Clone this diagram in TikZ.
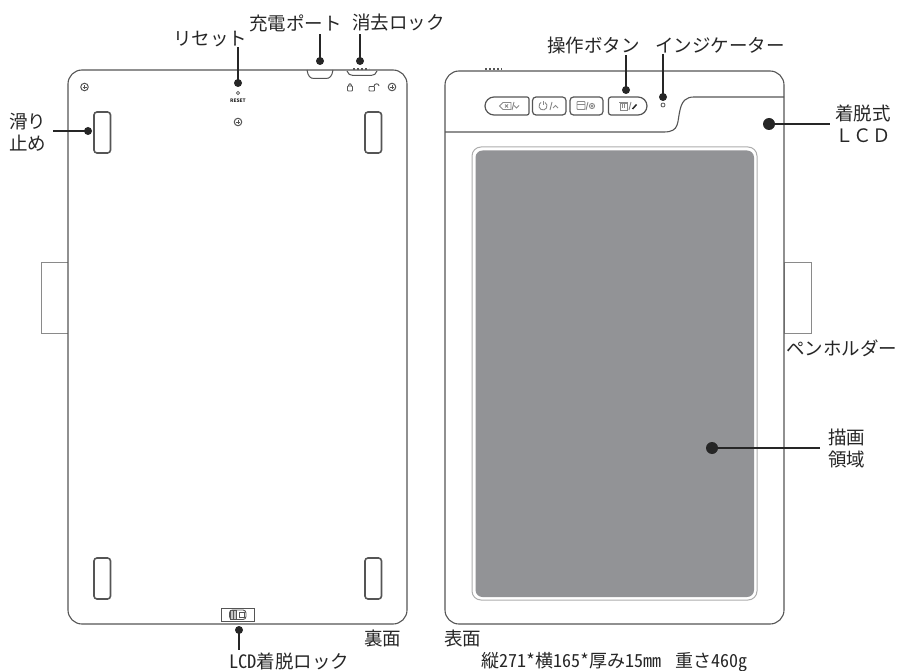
\documentclass[tikz,border=0pt]{standalone}
\usepackage{fontspec}
\setmainfont{Noto Sans CJK JP}
\newfontfamily\hwfont[RawFeature=+hwid]{Noto Sans CJK JP}
\definecolor{ink}{HTML}{262626}
\definecolor{edge}{HTML}{555555}
\definecolor{soft}{HTML}{8A8A8A}
\definecolor{scr}{HTML}{929396}
\tikzset{
  lbl/.style={inner sep=0pt,text=ink,font=\fontsize{18.5}{22}\selectfont,align=center},
  panel/.style={draw=edge,line width=1.1pt,fill=white},
  holder/.style={draw=soft,line width=1pt,fill=white},
  pad/.style={draw=edge,line width=1.6pt,rounded corners=3pt,fill=white},
  leader/.style={draw=ink,line width=1.5pt},
  dotm/.style={circle,fill=ink,inner sep=0pt,minimum size=8pt},
  dotl/.style={circle,fill=ink,inner sep=0pt,minimum size=12pt},
  ic/.style={draw=soft,line width=.9pt},
  btn/.style={draw=edge,line width=1.2pt,fill=white},
  screw/.style={circle,draw=edge,line width=1pt,inner sep=0pt,minimum size=7.5pt}
}
\newcommand{\screwat}[2]{\node[screw] (#2) at (#1) {};
  \draw[edge,line width=.7pt] ([xshift=-2pt]#2.center) -- ([xshift=2pt]#2.center) ([yshift=-2pt]#2.center) -- ([yshift=2pt]#2.center);}
\begin{document}
\begin{tikzpicture}[x=1pt,y=-1pt]
\useasboundingbox (0,0) rectangle (899,671);
% pen holders
\draw[holder] (68,262) rectangle (41,333);
\draw[holder] (784,262) rectangle (811,333);
% back panel
\draw[panel,rounded corners=14pt] (68,70) rectangle (407,624);
\foreach \x/\y in {94/112,365/112,94/558,365/558}
  \draw[pad] (\x,\y) rectangle ++(16.5,41);
\screwat{84.5,87}{sa}
\screwat{238,122}{sb}
\screwat{392,87}{sc}
\draw[edge,line width=.7pt] (238,93) circle (1.7);
\node[inner sep=0pt,text=ink,font=\fontsize{4.8}{5}\selectfont\bfseries] (rs) at (238,101) {RESET};
% charge port
\draw[edge,line width=1pt] (307,70) .. controls (308,76) and (310,78.5) .. (314,78.5) -- (326,78.5) .. controls (330,78.5) and (332,76) .. (333,70);
% erase slider
\draw[edge,line width=1pt] (347,71) .. controls (348,74) and (350,75.5) .. (353,75.5) -- (371,75.5) .. controls (374,75.5) and (376,74) .. (377,71);
\draw[edge,line width=1.1pt,dash pattern=on 2pt off 2pt] (353,69) -- (369,69);
% lock icons
\draw[edge,line width=.9pt,rounded corners=.7pt] (347.5,86) rectangle (352.5,91);
\draw[edge,line width=.9pt] (348.5,86) .. controls (348.5,83) and (351.5,83) .. (351.5,86);
\draw[edge,line width=.9pt,rounded corners=.7pt] (369,86.5) rectangle (374.5,91);
\draw[edge,line width=.9pt] (374,86.5) .. controls (374,83) and (379,83) .. (379,86);
% slide lock at bottom
\draw[edge,line width=.9pt,fill=white] (221,608) rectangle (254,621);
\draw[edge,line width=.9pt,rounded corners=3pt] (229.5,610) rectangle (246,619.5);
\draw[edge,line width=.9pt,fill=soft!50] (230,610.5) rectangle (236,619);
\draw[edge,line width=.6pt] (233,610.5) -- (233,619);
\draw[edge,line width=.6pt] (239,612.5) rectangle (244,617);
% front panel
\draw[panel,rounded corners=14pt] (445,71) rectangle (784,624);
\draw[edge,line width=1.1pt,dash pattern=on 2pt off 2pt] (485,69) -- (502,69);
\draw[edge,line width=1.1pt] (445,132) -- (664,132) .. controls (680,132) and (677,122) .. (680,110) .. controls (682,101) and (686,97) .. (694,97) -- (784,97);
% screen
\draw[draw=soft!70,line width=1pt,fill=white,rounded corners=9pt] (472,147) rectangle (757,600);
\fill[scr,rounded corners=7pt] (475.5,150.5) rectangle (754,597);
% buttons
\draw[btn] (494,97) -- (527,97) arc[start angle=-90,end angle=0,radius=2] -- (529,113) arc[start angle=0,end angle=90,radius=2] -- (494,115) arc[start angle=90,end angle=270,radius=9] -- cycle;
\draw[btn,rounded corners=3.5pt] (532.5,97) rectangle (566,115);
\draw[btn,rounded corners=3.5pt] (570,97) rectangle (603,115);
\draw[btn] (611,97) -- (638,97) arc[start angle=-90,end angle=90,radius=9] -- (611,115) arc[start angle=90,end angle=180,radius=2.5] -- (608.5,99.5) arc[start angle=180,end angle=270,radius=2.5] -- cycle;
% button icons
\draw[ic] (503,102.5) -- (511,102.5) -- (511,109.5) -- (503,109.5) -- (499.5,106) -- cycle;
\draw[ic] (505,104.5) -- (508,107.5) (508,104.5) -- (505,107.5);
\draw[ic] (512,110) -- (514,102) (514,105.5) -- (516.5,108) -- (519,105.5);
\draw[ic] (545,102.5) arc[start angle=-60,end angle=240,radius=4];
\draw[ic] (543,101) -- (543,105);
\draw[ic] (550,110) -- (552,102) (553,108) -- (555.5,105.5) -- (558,108);
\draw[ic,rounded corners=.7pt] (577,101.5) rectangle (585,109.5);
\draw[ic] (577,104) -- (585,104);
\draw[ic] (586,110) -- (588,102);
\draw[ic] (592,106) circle (2.6) (592,106) circle (.8);
\draw[ic] (620,103) rectangle (627,110) (619,102.5) -- (628,102.5);
\draw[ic] (622.5,104.5) -- (622.5,108.5) (624.5,104.5) -- (624.5,108.5);
\draw[ic] (629,110) -- (631,102);
\draw[ink,line width=1.5pt] (632.5,109) -- (636.5,104.5);
\draw[edge,line width=.8pt] (663,105) circle (2);
% labels
\node[lbl,anchor=west] (lreset) at (173,39.5) {リセット};
\node[lbl,anchor=west] (lport) at (249,23) {充電ポート};
\node[lbl,anchor=west] (lerase) at (352,23) {消去ロック};
\node[lbl,anchor=west] (lpad) at (9,132) {滑り\\止め};
\node[lbl,anchor=west] (lslide) at (229,661) {{\hwfont LCD}着脱ロック};
\node[lbl,anchor=west] (lback) at (364,638) {裏面};
\node[lbl,anchor=west] (lfront) at (444,638) {表面};
\node[lbl,anchor=west,font=\fontsize{18}{22}\selectfont\hwfont] (lspec) at (481,662) {縦271*横165*厚み15mm\hspace{14pt}重さ460g};
\node[lbl,anchor=west] (lbtn) at (547,45) {操作ボタン};
\node[lbl,anchor=west] (lind) at (655,45) {インジケーター};
\node[lbl,anchor=west] (llcd) at (835,124) {着脱式\\ＬＣＤ};
\node[lbl,anchor=west] (lpen) at (786,348) {ペンホルダー};
\node[lbl,anchor=west] (larea) at (828,448) {描画\\領域};
% dots
\node[dotm] (dreset) at (238,83) {};
\node[dotm] (dport) at (320,61) {};
\node[dotm] (derase) at (360,61) {};
\node[dotm] (dpad) at (88,131) {};
\node[dotm] (dbtn) at (626,90) {};
\node[dotm] (dind) at (663,97) {};
\node[dotm] (dslide) at (239,630) {};
\node[dotl] (dlcd) at (769,124) {};
\node[dotl] (darea) at (712,448) {};
% free ends of the connectors
\coordinate (ereset) at (238,47);
\coordinate (eport) at (320,34);
\coordinate (eerase) at (360,34);
\coordinate (epad) at (53,131);
\coordinate (ebtn) at (626,55);
\coordinate (eind) at (663,54);
\coordinate (eslide) at (239,650);
\coordinate (elcd) at (830,124);
\coordinate (earea) at (820,448);
\foreach \a in {reset,port,erase,pad,btn,ind,slide,lcd,area}
  \draw[leader] (d\a.center) -- (e\a);
\end{tikzpicture}
\end{document}
